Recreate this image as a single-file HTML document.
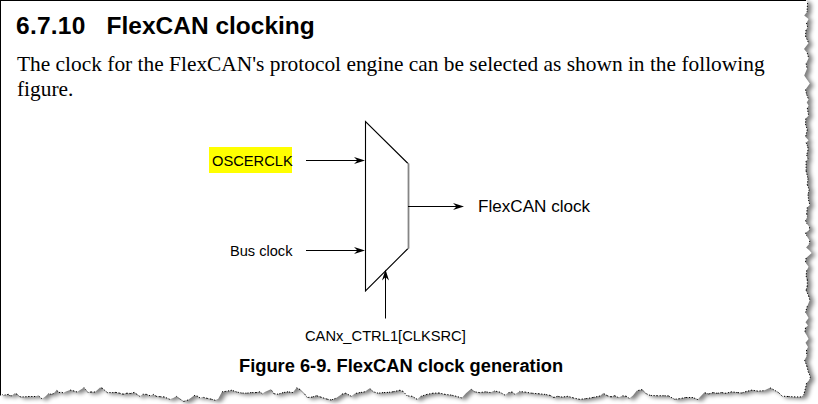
<!DOCTYPE html>
<html><head><meta charset="utf-8">
<style>
html,body{margin:0;padding:0;background:#fff;}
body{width:818px;height:404px;position:relative;overflow:hidden;}
.t{position:absolute;white-space:nowrap;line-height:1;color:#000;}
.sans{font-family:"Liberation Sans",sans-serif;}
.serif{font-family:"Liberation Serif",serif;}
</style></head><body>
<svg width="818" height="404" style="position:absolute;left:0;top:0">
  <defs>
    <filter id="sh" x="-5%" y="-5%" width="110%" height="110%">
      <feGaussianBlur stdDeviation="2.2"/>
    </filter>
  </defs>
  <path d="M0,0 L806,0 L807.6,3 L807,12 L804.2,15.5 L808.6,19 L806.5,23 L807.6,27 L806,30 L805.5,36 L808.6,43 L804,49 L807.3,53.1 L808.6,58 L806.1,63.6 L807.1,68.6 L804.2,75.4 L809.8,83.4 L805.5,89.6 L806.7,94.6 L808.6,99.5 L806.7,102.5 L808.6,105.6 L807.3,108 L808.6,115.5 L805.8,118.6 L805.5,124.1 L807.3,129.7 L805.5,137.1 L808.6,140.2 L806.1,142.7 L807.9,147 L808,150 L806.7,155 L808,158.7 L806.1,161.1 L806.1,171 L808,178.5 L807.3,184.7 L809.2,189.6 L808,194.6 L808.6,200 L809.8,205 L807.3,207.4 L806.7,213.6 L807.3,216.7 L805.5,220.4 L806.7,223.5 L809.6,227.2 L809.2,230.3 L805.5,232.8 L806.7,235.9 L809.8,240.8 L809.2,243.9 L806.1,247.6 L809,250 L811.7,253.1 L806.1,258 L805.5,262.4 L808.6,266.7 L806.7,270.4 L806.1,276 L807.3,279.7 L807.3,285.9 L806.1,290.2 L808.6,295.8 L809.8,300 L807.3,306.2 L805.5,312.4 L808.6,318 L805.5,322.3 L808,325.4 L805.5,327.8 L804.9,332.4 L806.7,335.3 L808.6,339 L805.5,342.7 L808,347 L806.5,350 L806.8,355.8 L804.6,360.1 L806.8,365.9 L808.2,371.6 L810.4,376.7 L809.6,379.6 L806.5,383.2 L806,386.1 L804.6,391.8 L803.6,395 L801,396.9 L795.2,396.9 L788,396.5 L782.2,396.2 L778.6,392.6 L773.6,389.7 L770,387.8 L763.5,390.7 L757.7,391.1 L751.9,390.1 L746.2,391.5 L741.8,393 L737.5,392.6 L731.7,391.8 L726,393.3 L721.6,392.6 L717.3,393.3 L713,392.6 L708.7,394 L704.3,392.6 L700,396.9 L697.8,399.6 L692.9,397.5 L685.6,397.5 L679.5,398.7 L674.6,399.3 L668.5,395.9 L663.6,395.7 L657.5,395.7 L650.1,395.4 L645.8,393.5 L642.2,389.6 L636.7,390.8 L633,395.4 L629.3,398.4 L626.3,396.3 L622.6,395.7 L618.3,397.5 L614.7,395.7 L611,396.9 L607.3,395.7 L603.1,393.2 L600,396 L592.9,397.5 L585.6,398.7 L579.5,399.3 L573.3,397.9 L567.8,396.3 L562.3,397.1 L557.5,396.3 L553.8,397.5 L550.1,395.4 L545.2,394.4 L539.1,393.8 L531.8,393.2 L525.7,392.2 L519.6,391.4 L514.7,394.2 L512.2,392 L508.6,392.6 L504.9,395.1 L500,392.2 L494.1,390.8 L490.5,392.6 L485.6,391.8 L479.5,392.6 L474.6,391.8 L470.9,388.9 L466,393.2 L461.7,397.9 L456.2,396.3 L451.3,395.1 L445.2,394.4 L439.1,393 L433,393.2 L426.9,394.4 L420.8,396.3 L417.1,399.3 L412.2,396.3 L407.3,395.9 L403.1,391.4 L400,390.2 L392.9,391.8 L388,392.4 L383.1,392.6 L378.2,393.2 L373.3,391.8 L369.7,388.3 L364.8,391.8 L359.9,392.6 L355,393.5 L351.3,396.3 L345.8,393.2 L341.6,394.2 L335.5,398.4 L331.2,400 L326.9,399.1 L320.8,397.1 L316.5,395.7 L312.2,397.1 L307.3,397.5 L304.9,394.4 L300,389.5 L296.6,387.7 L292.9,392.6 L288,391.8 L283.1,392.6 L278.2,394.2 L274,393.8 L270.9,389.3 L264.8,392 L262.3,393.8 L259.9,391.8 L256.2,392.6 L251.3,392.6 L246.5,393.2 L241.6,393 L236.7,392 L231.8,390.2 L225.7,391.4 L222,391.8 L218.3,398.7 L215.3,400.3 L211,399.1 L207.3,398.4 L202.4,397.1 L200,398 L197.8,396.3 L194.1,395.4 L188,400 L183.7,401.5 L179.5,398.7 L176.4,396.3 L173.3,397.9 L169.7,399.3 L164.2,396.9 L159.9,396.7 L156.2,396.3 L153.2,394.2 L150.1,395.7 L146.5,394.4 L142.8,394.2 L139.7,396.3 L136.7,394.2 L134.2,392.4 L130.6,393.5 L126.9,393.2 L123.2,394.2 L119.6,393.2 L115.9,392.4 L113.4,392.6 L107.3,392.6 L102.4,388.3 L100,387.5 L99,388.5 L95,392 L91,392 L88,392.5 L84,387.5 L77,392 L74,391 L70,390 L66,391.5 L63,393 L61,391.5 L60,392.8 L56.5,390.3 L53.6,393.6 L51.4,394.3 L48.4,393.6 L45.9,396.1 L44,397.6 L41.8,398.7 L38.1,395.4 L35.2,396.5 L29.3,396.5 L21.3,397 L19.4,396.5 L17.2,394.3 L14.7,393.2 L11.7,395.8 L9.5,395.6 L8.4,394.3 L3.3,395.4 L2.2,394.3 L0,395.4 Z" fill="#000" fill-opacity="0.5" transform="translate(4,2)" filter="url(#sh)"/>
  <path d="M0,0 L806,0 L807.6,3 L807,12 L804.2,15.5 L808.6,19 L806.5,23 L807.6,27 L806,30 L805.5,36 L808.6,43 L804,49 L807.3,53.1 L808.6,58 L806.1,63.6 L807.1,68.6 L804.2,75.4 L809.8,83.4 L805.5,89.6 L806.7,94.6 L808.6,99.5 L806.7,102.5 L808.6,105.6 L807.3,108 L808.6,115.5 L805.8,118.6 L805.5,124.1 L807.3,129.7 L805.5,137.1 L808.6,140.2 L806.1,142.7 L807.9,147 L808,150 L806.7,155 L808,158.7 L806.1,161.1 L806.1,171 L808,178.5 L807.3,184.7 L809.2,189.6 L808,194.6 L808.6,200 L809.8,205 L807.3,207.4 L806.7,213.6 L807.3,216.7 L805.5,220.4 L806.7,223.5 L809.6,227.2 L809.2,230.3 L805.5,232.8 L806.7,235.9 L809.8,240.8 L809.2,243.9 L806.1,247.6 L809,250 L811.7,253.1 L806.1,258 L805.5,262.4 L808.6,266.7 L806.7,270.4 L806.1,276 L807.3,279.7 L807.3,285.9 L806.1,290.2 L808.6,295.8 L809.8,300 L807.3,306.2 L805.5,312.4 L808.6,318 L805.5,322.3 L808,325.4 L805.5,327.8 L804.9,332.4 L806.7,335.3 L808.6,339 L805.5,342.7 L808,347 L806.5,350 L806.8,355.8 L804.6,360.1 L806.8,365.9 L808.2,371.6 L810.4,376.7 L809.6,379.6 L806.5,383.2 L806,386.1 L804.6,391.8 L803.6,395 L801,396.9 L795.2,396.9 L788,396.5 L782.2,396.2 L778.6,392.6 L773.6,389.7 L770,387.8 L763.5,390.7 L757.7,391.1 L751.9,390.1 L746.2,391.5 L741.8,393 L737.5,392.6 L731.7,391.8 L726,393.3 L721.6,392.6 L717.3,393.3 L713,392.6 L708.7,394 L704.3,392.6 L700,396.9 L697.8,399.6 L692.9,397.5 L685.6,397.5 L679.5,398.7 L674.6,399.3 L668.5,395.9 L663.6,395.7 L657.5,395.7 L650.1,395.4 L645.8,393.5 L642.2,389.6 L636.7,390.8 L633,395.4 L629.3,398.4 L626.3,396.3 L622.6,395.7 L618.3,397.5 L614.7,395.7 L611,396.9 L607.3,395.7 L603.1,393.2 L600,396 L592.9,397.5 L585.6,398.7 L579.5,399.3 L573.3,397.9 L567.8,396.3 L562.3,397.1 L557.5,396.3 L553.8,397.5 L550.1,395.4 L545.2,394.4 L539.1,393.8 L531.8,393.2 L525.7,392.2 L519.6,391.4 L514.7,394.2 L512.2,392 L508.6,392.6 L504.9,395.1 L500,392.2 L494.1,390.8 L490.5,392.6 L485.6,391.8 L479.5,392.6 L474.6,391.8 L470.9,388.9 L466,393.2 L461.7,397.9 L456.2,396.3 L451.3,395.1 L445.2,394.4 L439.1,393 L433,393.2 L426.9,394.4 L420.8,396.3 L417.1,399.3 L412.2,396.3 L407.3,395.9 L403.1,391.4 L400,390.2 L392.9,391.8 L388,392.4 L383.1,392.6 L378.2,393.2 L373.3,391.8 L369.7,388.3 L364.8,391.8 L359.9,392.6 L355,393.5 L351.3,396.3 L345.8,393.2 L341.6,394.2 L335.5,398.4 L331.2,400 L326.9,399.1 L320.8,397.1 L316.5,395.7 L312.2,397.1 L307.3,397.5 L304.9,394.4 L300,389.5 L296.6,387.7 L292.9,392.6 L288,391.8 L283.1,392.6 L278.2,394.2 L274,393.8 L270.9,389.3 L264.8,392 L262.3,393.8 L259.9,391.8 L256.2,392.6 L251.3,392.6 L246.5,393.2 L241.6,393 L236.7,392 L231.8,390.2 L225.7,391.4 L222,391.8 L218.3,398.7 L215.3,400.3 L211,399.1 L207.3,398.4 L202.4,397.1 L200,398 L197.8,396.3 L194.1,395.4 L188,400 L183.7,401.5 L179.5,398.7 L176.4,396.3 L173.3,397.9 L169.7,399.3 L164.2,396.9 L159.9,396.7 L156.2,396.3 L153.2,394.2 L150.1,395.7 L146.5,394.4 L142.8,394.2 L139.7,396.3 L136.7,394.2 L134.2,392.4 L130.6,393.5 L126.9,393.2 L123.2,394.2 L119.6,393.2 L115.9,392.4 L113.4,392.6 L107.3,392.6 L102.4,388.3 L100,387.5 L99,388.5 L95,392 L91,392 L88,392.5 L84,387.5 L77,392 L74,391 L70,390 L66,391.5 L63,393 L61,391.5 L60,392.8 L56.5,390.3 L53.6,393.6 L51.4,394.3 L48.4,393.6 L45.9,396.1 L44,397.6 L41.8,398.7 L38.1,395.4 L35.2,396.5 L29.3,396.5 L21.3,397 L19.4,396.5 L17.2,394.3 L14.7,393.2 L11.7,395.8 L9.5,395.6 L8.4,394.3 L3.3,395.4 L2.2,394.3 L0,395.4 Z" fill="#fff"/>
  <path d="M807.6,3L807,12M806.5,23L807.6,27M806,30L805.5,36M805.5,36L808.6,43M807.3,53.1L808.6,58M806.1,63.6L807.1,68.6M805.5,89.6L806.7,94.6M806.7,94.6L808.6,99.5M807.3,108L808.6,115.5M805.8,118.6L805.5,124.1M805.5,124.1L807.3,129.7M807.3,129.7L805.5,137.1M806.1,142.7L807.9,147M807.9,147L808,150M808,150L806.7,155M806.7,155L808,158.7M806.1,161.1L806.1,171M806.1,171L808,178.5M808,178.5L807.3,184.7M807.3,184.7L809.2,189.6M809.2,189.6L808,194.6M808,194.6L808.6,200M808.6,200L809.8,205M807.3,207.4L806.7,213.6M806.7,213.6L807.3,216.7M805.5,220.4L806.7,223.5M809.6,227.2L809.2,230.3M805.5,232.8L806.7,235.9M809.8,240.8L809.2,243.9M806.1,258L805.5,262.4M806.7,270.4L806.1,276M806.1,276L807.3,279.7M807.3,279.7L807.3,285.9M807.3,285.9L806.1,290.2M806.1,290.2L808.6,295.8M808.6,295.8L809.8,300M807.3,306.2L805.5,312.4M805.5,327.8L804.9,332.4M806.5,350L806.8,355.8M804.6,360.1L806.8,365.9M806.8,365.9L808.2,371.6M808.2,371.6L810.4,376.7M810.4,376.7L809.6,379.6M806.5,383.2L806,386.1M806,386.1L804.6,391.8M804.6,391.8L803.6,395M801,396.9L795.2,396.9M795.2,396.9L788,396.5M788,396.5L782.2,396.2M782.2,396.2L778.6,392.6M778.6,392.6L773.6,389.7M773.6,389.7L770,387.8M763.5,390.7L757.7,391.1M757.7,391.1L751.9,390.1M751.9,390.1L746.2,391.5M746.2,391.5L741.8,393M741.8,393L737.5,392.6M737.5,392.6L731.7,391.8M731.7,391.8L726,393.3M726,393.3L721.6,392.6M721.6,392.6L717.3,393.3M717.3,393.3L713,392.6M713,392.6L708.7,394M708.7,394L704.3,392.6M697.8,399.6L692.9,397.5M692.9,397.5L685.6,397.5M685.6,397.5L679.5,398.7M679.5,398.7L674.6,399.3M674.6,399.3L668.5,395.9M668.5,395.9L663.6,395.7M663.6,395.7L657.5,395.7M657.5,395.7L650.1,395.4M650.1,395.4L645.8,393.5M645.8,393.5L642.2,389.6M642.2,389.6L636.7,390.8M629.3,398.4L626.3,396.3M626.3,396.3L622.6,395.7M618.3,397.5L614.7,395.7M614.7,395.7L611,396.9M611,396.9L607.3,395.7M607.3,395.7L603.1,393.2M600,396L592.9,397.5M592.9,397.5L585.6,398.7M585.6,398.7L579.5,399.3M579.5,399.3L573.3,397.9M573.3,397.9L567.8,396.3M567.8,396.3L562.3,397.1M562.3,397.1L557.5,396.3M557.5,396.3L553.8,397.5M553.8,397.5L550.1,395.4M550.1,395.4L545.2,394.4M545.2,394.4L539.1,393.8M539.1,393.8L531.8,393.2M531.8,393.2L525.7,392.2M525.7,392.2L519.6,391.4M514.7,394.2L512.2,392M512.2,392L508.6,392.6M504.9,395.1L500,392.2M500,392.2L494.1,390.8M490.5,392.6L485.6,391.8M485.6,391.8L479.5,392.6M479.5,392.6L474.6,391.8M474.6,391.8L470.9,388.9M461.7,397.9L456.2,396.3M456.2,396.3L451.3,395.1M451.3,395.1L445.2,394.4M445.2,394.4L439.1,393M439.1,393L433,393.2M433,393.2L426.9,394.4M426.9,394.4L420.8,396.3M417.1,399.3L412.2,396.3M412.2,396.3L407.3,395.9M407.3,395.9L403.1,391.4M403.1,391.4L400,390.2M400,390.2L392.9,391.8M392.9,391.8L388,392.4M388,392.4L383.1,392.6M383.1,392.6L378.2,393.2M378.2,393.2L373.3,391.8M373.3,391.8L369.7,388.3M364.8,391.8L359.9,392.6M359.9,392.6L355,393.5M351.3,396.3L345.8,393.2M345.8,393.2L341.6,394.2M335.5,398.4L331.2,400M331.2,400L326.9,399.1M326.9,399.1L320.8,397.1M320.8,397.1L316.5,395.7M316.5,395.7L312.2,397.1M312.2,397.1L307.3,397.5M307.3,397.5L304.9,394.4M304.9,394.4L300,389.5M300,389.5L296.6,387.7M292.9,392.6L288,391.8M288,391.8L283.1,392.6M283.1,392.6L278.2,394.2M278.2,394.2L274,393.8M274,393.8L270.9,389.3M262.3,393.8L259.9,391.8M259.9,391.8L256.2,392.6M256.2,392.6L251.3,392.6M251.3,392.6L246.5,393.2M246.5,393.2L241.6,393M241.6,393L236.7,392M236.7,392L231.8,390.2M231.8,390.2L225.7,391.4M225.7,391.4L222,391.8M215.3,400.3L211,399.1M211,399.1L207.3,398.4M207.3,398.4L202.4,397.1M200,398L197.8,396.3M197.8,396.3L194.1,395.4M188,400L183.7,401.5M183.7,401.5L179.5,398.7M179.5,398.7L176.4,396.3M169.7,399.3L164.2,396.9M164.2,396.9L159.9,396.7M159.9,396.7L156.2,396.3M156.2,396.3L153.2,394.2M150.1,395.7L146.5,394.4M146.5,394.4L142.8,394.2M139.7,396.3L136.7,394.2M136.7,394.2L134.2,392.4M134.2,392.4L130.6,393.5M130.6,393.5L126.9,393.2M126.9,393.2L123.2,394.2M123.2,394.2L119.6,393.2M119.6,393.2L115.9,392.4M115.9,392.4L113.4,392.6M113.4,392.6L107.3,392.6M107.3,392.6L102.4,388.3M102.4,388.3L100,387.5M95,392L91,392M91,392L88,392.5M88,392.5L84,387.5M77,392L74,391M74,391L70,390M63,393L61,391.5M60,392.8L56.5,390.3M53.6,393.6L51.4,394.3M51.4,394.3L48.4,393.6M41.8,398.7L38.1,395.4M35.2,396.5L29.3,396.5M29.3,396.5L21.3,397M21.3,397L19.4,396.5M19.4,396.5L17.2,394.3M17.2,394.3L14.7,393.2M11.7,395.8L9.5,395.6M9.5,395.6L8.4,394.3M8.4,394.3L3.3,395.4M3.3,395.4L2.2,394.3" fill="none" stroke="#000" stroke-width="1" stroke-dasharray="1.2 1.6"/>
  <line x1="0" y1="0.5" x2="806" y2="0.5" stroke="#000" stroke-width="1"/>
  <line x1="0.5" y1="0" x2="0.5" y2="395.5" stroke="#000" stroke-width="1"/>
  <!-- mux -->
  <path d="M408.5,164 L365.5,121.5 L365.5,291 L408.5,248" fill="none" stroke="#000" stroke-width="1.1"/>
  <rect x="407" y="163.5" width="3" height="85" fill="#cfcfcf"/><rect x="408" y="163.5" width="1" height="85" fill="#858585"/>
  <line x1="306" y1="160.5" x2="360" y2="160.5" stroke="#000" stroke-width="1"/>
  <path d="M365,160.5 L354,157 L357.5,160.5 L354,164 Z" fill="#000"/>
  <line x1="306" y1="250.5" x2="360" y2="250.5" stroke="#000" stroke-width="1"/>
  <path d="M365,250.5 L354,247 L357.5,250.5 L354,254 Z" fill="#000"/>
  <line x1="408" y1="206.5" x2="458" y2="206.5" stroke="#000" stroke-width="1"/>
  <path d="M464,206.5 L453,203 L456.5,206.5 L453,210 Z" fill="#000"/>
  <line x1="385.5" y1="318.5" x2="385.5" y2="275" stroke="#000" stroke-width="1"/>
  <path d="M385.5,269.5 L382,280.5 L385.5,277 L389,280.5 Z" fill="#000"/>
</svg>
<div class="t sans" style="left:16px;top:14px;font-size:24.5px;font-weight:bold;letter-spacing:0.25px">6.7.10</div>
<div class="t sans" style="left:106.5px;top:14px;font-size:24.5px;font-weight:bold">FlexCAN clocking</div>
<div class="t serif" style="left:17px;top:54px;font-size:21.4px;">The clock for the FlexCAN's protocol engine can be selected as shown in the following</div>
<div class="t serif" style="left:17px;top:79px;font-size:21.4px;">figure.</div>
<div class="t" style="left:209px;top:147px;width:83px;height:26px;background:#ffff00;"></div>
<div class="t sans" style="left:212px;top:153.6px;font-size:14.7px">OSCERCLK</div>
<div class="t sans" style="left:230px;top:244px;font-size:14.6px">Bus clock</div>
<div class="t sans" style="left:478px;top:198px;font-size:17.1px">FlexCAN clock</div>
<div class="t sans" style="left:305px;top:329px;font-size:14.7px">CANx_CTRL1[CLKSRC]</div>
<div class="t sans" style="left:239px;top:356.5px;font-size:18.3px;font-weight:bold">Figure 6-9. FlexCAN clock generation</div>
</body></html>
